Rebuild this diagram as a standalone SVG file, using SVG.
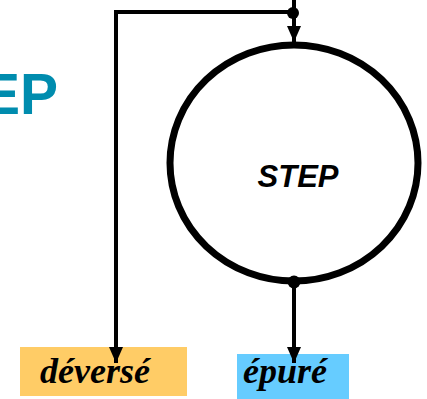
<svg xmlns="http://www.w3.org/2000/svg" width="427" height="399" viewBox="0 0 427 399">
  <style>
    .wire { fill: none; stroke: #000; stroke-width: 4; }
    .lbl { font-family: "Liberation Serif", "Times New Roman", serif; font-weight: bold; font-style: italic; font-size: 36px; fill: #000; }
  </style>
  <defs>
    <marker id="arrow" viewBox="0 0 16 14" refX="16" refY="7" markerWidth="16" markerHeight="14" markerUnits="userSpaceOnUse" orient="auto">
      <path d="M0,0 L16,7 L0,14 Z" fill="#000"/>
    </marker>
  </defs>
  <rect width="427" height="399" fill="#fff"/>

  <!-- title, partly off the left edge -->
  <text x="58" y="114" text-anchor="end" font-family="Liberation Sans, Arial, sans-serif" font-weight="bold" font-size="57" fill="#008CAE">STEP</text>

  <g id="step">
    <ellipse cx="294" cy="163" rx="124" ry="118" fill="none" stroke="#000" stroke-width="7"/>
    <text x="298" y="187" text-anchor="middle" font-family="Liberation Sans, Arial, sans-serif" font-weight="bold" font-style="italic" font-size="31" fill="#000">STEP</text>
  </g>

  <g id="deverse">
    <rect x="20" y="347" width="167" height="49" fill="#FFCC66"/>
    <text class="lbl" x="40" y="383">déversé</text>
  </g>

  <g id="epure">
    <rect x="237" y="354" width="112" height="45" fill="#66CCFF"/>
    <text class="lbl" x="243" y="383">épuré</text>
  </g>

  <g id="connectors">
    <path class="wire" d="M294,0 V42" marker-end="url(#arrow)"/>
    <path class="wire" d="M294,12 H116 V363" marker-end="url(#arrow)"/>
    <path class="wire" d="M294,282 V363" marker-end="url(#arrow)"/>
    <circle cx="293" cy="13" r="6" fill="#000"/>
    <circle cx="294" cy="282" r="6.5" fill="#000"/>
  </g>
</svg>
